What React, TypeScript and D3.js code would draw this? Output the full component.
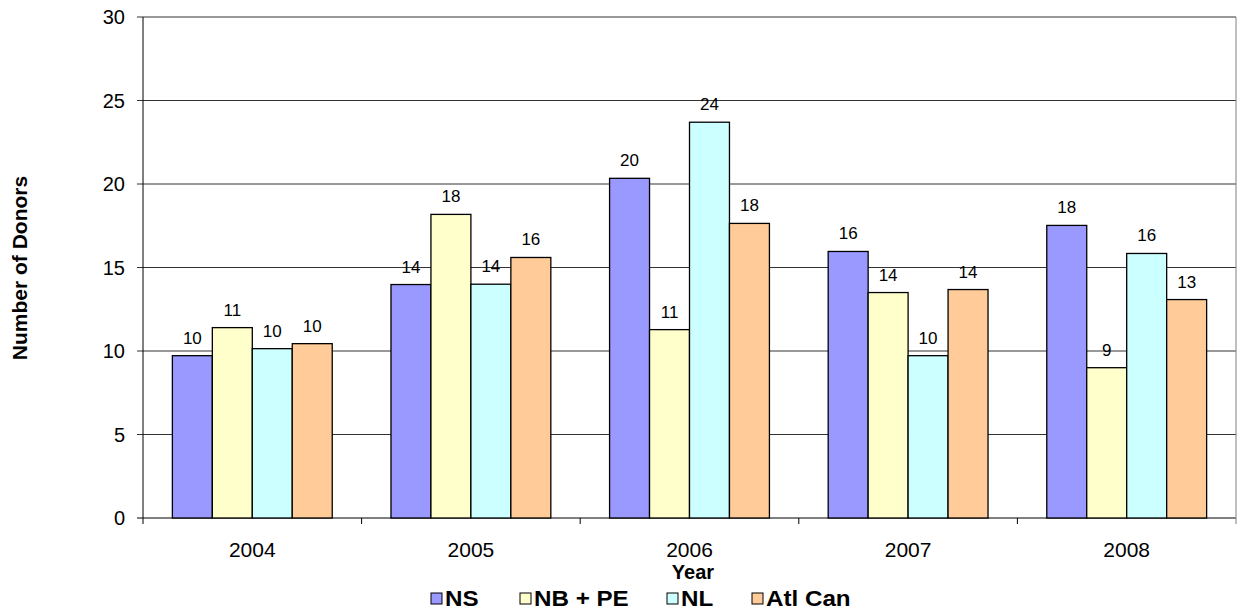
import React from "react";
import * as d3 from "d3";

const years = ["2004", "2005", "2006", "2007", "2008"];
const seriesNames = ["NS", "NB + PE", "NL", "Atl Can"];
const colors = ["#9999FF", "#FFFFCC", "#CCFFFF", "#FFCC99"];
const ns = [9.72, 13.98, 20.34, 15.96, 17.52];
const nbpe = [11.4, 18.18, 11.28, 13.5, 9.0];
const nl = [10.14, 14.0, 23.7, 9.72, 15.84];
const atlcan = [10.44, 15.6, 17.64, 13.68, 13.08];
const yTicks = [0, 5, 10, 15, 20, 25, 30];

const W = 1241, H = 611;
const left = 143, right = 1236, top = 17, bottom = 518;

export default function App() {
  const series = [ns, nbpe, nl, atlcan];
  const x0 = d3.scaleBand().domain(years).range([left, right]).paddingInner(0).paddingOuter(0);
  const y = d3.scaleLinear().domain([0, 30]).range([bottom, top]);
  const cw = x0.bandwidth();
  const barW = cw / 5.47;
  const groupW = barW * 4;
  const x1 = d3.scaleBand().domain(seriesNames).range([0, groupW]).padding(0);
  const font = "Arial, 'Liberation Sans', sans-serif";
  const legendSq = [431, 520, 667, 752];
  return (
    <svg width={W} height={H} style={{ position: "absolute", left: 0, top: 0 }} fontFamily={font}>
      <rect width={W} height={H} fill="#fff" />
      {yTicks.map((t) => (
        <g key={t}>
          <line x1={left - 6} x2={right} y1={y(t)} y2={y(t)} stroke={t === 0 ? "#000" : "#333"} strokeWidth={1} />
          <text x={left - 18} y={y(t)} dy="0.36em" textAnchor="end" fontSize={20}>{t}</text>
        </g>
      ))}
      <line x1={left} x2={left} y1={top} y2={bottom} stroke="#000" />
      <line x1={right} x2={right} y1={top} y2={bottom + 6} stroke="#808080" />
      {years.map((yr) => (
        <line key={"t" + yr} x1={x0(yr)!} x2={x0(yr)!} y1={bottom} y2={bottom + 6} stroke="#000" />
      ))}
      {years.map((yr, i) => {
        const gx = x0(yr)! + (cw - groupW) / 2;
        return (
          <g key={yr}>
            {series.map((s, j) => {
              const bx = gx + x1(seriesNames[j])!;
              const by = y(s[i]);
              return (
                <g key={j}>
                  <rect x={bx} y={by} width={barW} height={bottom - by} fill={colors[j]} stroke="#000" strokeWidth={1.3} />
                  <text x={bx + barW / 2} y={by - 12} textAnchor="middle" fontSize={17}>{Math.round(s[i])}</text>
                </g>
              );
            })}
            <text x={x0(yr)! + cw / 2} y={557} textAnchor="middle" fontSize={21}>{yr}</text>
          </g>
        );
      })}
      <text x={693} y={579} textAnchor="middle" fontSize={20} fontWeight="bold">Year</text>
      <text transform={`translate(27,268) rotate(-90)`} textAnchor="middle" fontSize={21} fontWeight="bold">Number of Donors</text>
      {seriesNames.map((n, j) => (
        <g key={n}>
          <rect x={legendSq[j]} y={593} width={11} height={11} fill={colors[j]} stroke="#000" strokeWidth={1} />
          <text transform={`translate(${legendSq[j] + 14},606) scale(1.1,1)`} fontSize={22} fontWeight="bold">{n}</text>
        </g>
      ))}
    </svg>
  );
}
